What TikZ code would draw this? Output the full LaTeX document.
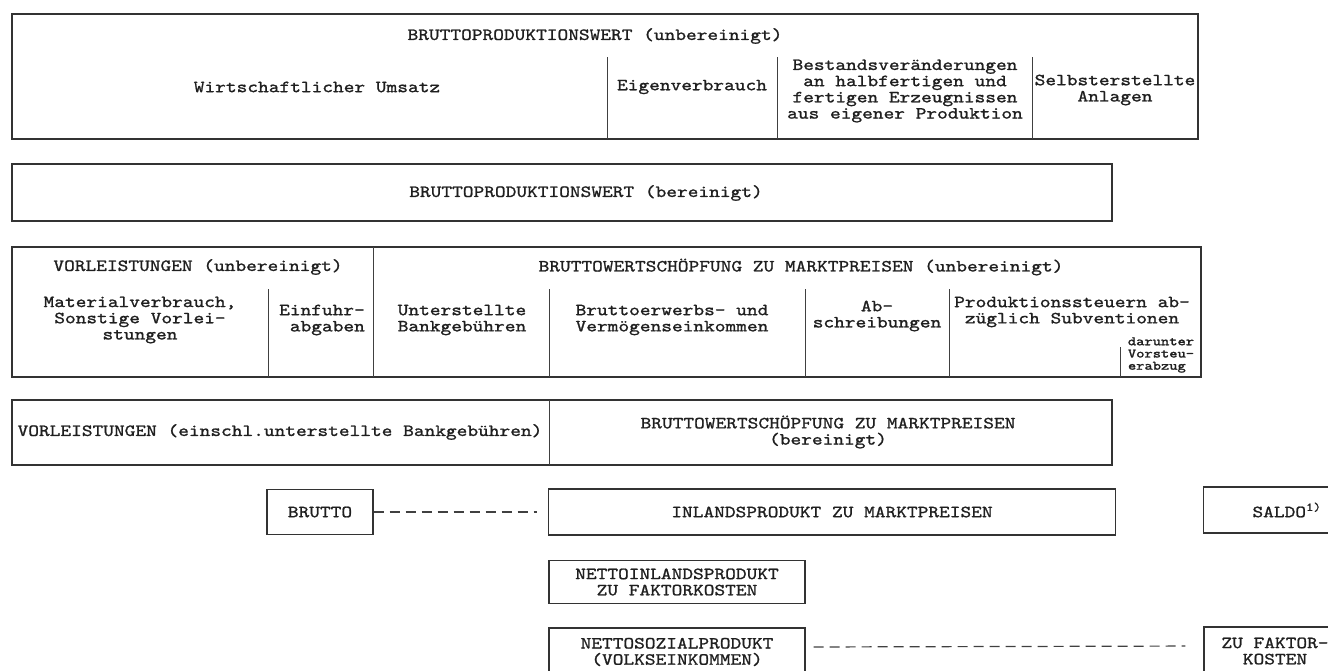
\documentclass[tikz,border=0pt]{standalone}
\usepackage{fontspec}
\newfontfamily\typewriter{lmmono10-regular.otf}[FakeStretch=1.2, FakeBold=1.2]
\newfontfamily\smalltype{lmmono10-regular.otf}[FakeStretch=1.23, FakeBold=1.8]
\usetikzlibrary{positioning}

\tikzset{
  rowframe/.style={draw=black!80, line width=1.4pt},
  cellline/.style={draw=black!75, line width=0.9pt},
  txt/.style={font=\typewriter\fontsize{17}{16.2}\selectfont, text=black!88, align=center, inner sep=0pt},
  smalltxt/.style={font=\smalltype\fontsize{12.8}{12.2}\selectfont, text=black!88, align=left, inner sep=0pt},
  figbox/.style={rowframe, txt},
  link/.style={draw=black!75, line width=1.2pt, dash pattern=on 10pt off 6pt},
}

\begin{document}
\begin{tikzpicture}[x=1pt, y=-1pt]
\useasboundingbox (0,0) rectangle (1328,670);
\clip (0,0) rectangle (1328,670);

% Bruttoproduktionswert (unbereinigt)
\draw[rowframe] (12,14) rectangle (1198,139);
\foreach \x in {607,777,1032} \draw[cellline] (\x,57) -- (\x,139);
\node[txt] (bpwu) at (595,36) {BRUTTOPRODUKTIONSWERT (unbereinigt)};
\node[txt] (umsatz) at (317,87) {Wirtschaftlicher Umsatz};
\node[txt] (eigen) at (692,87) {Eigenverbrauch};
\node[txt] (bestand) at (905,91) {Bestandsveränderungen\\an halbfertigen und\\fertigen Erzeugnissen\\aus eigener Produktion};
\node[txt] (anlagen) at (1115,90) {Selbsterstellte\\Anlagen};

% Bruttoproduktionswert (bereinigt)
\draw[rowframe] (12,164) rectangle (1112,221);
\node[txt] (bpwb) at (586,193) {BRUTTOPRODUKTIONSWERT (bereinigt)};

% Vorleistungen / Bruttowertschoepfung (unbereinigt)
\draw[rowframe] (12,247) rectangle (1201,377);
\draw[cellline] (373,247) -- (373,377);
\foreach \x in {268,549,805,949} \draw[cellline] (\x,289) -- (\x,377);
\draw[cellline] (1120,347) -- (1120,377);
\node[txt] (vlu) at (198,267) {VORLEISTUNGEN (unbereinigt)};
\node[txt] (bwsu) at (801,267) {BRUTTOWERTSCHÖPFUNG ZU MARKTPREISEN (unbereinigt)};
\node[txt] (material) at (140,320) {Materialverbrauch,\\Sonstige Vorlei-\\stungen};
\node[txt, align=right] (einfuhr) at (322,320) {Einfuhr-\\abgaben};
\node[txt] (bankgeb) at (462,320) {Unterstellte\\Bankgebühren};
\node[txt] (einkommen) at (672,320) {Bruttoerwerbs- und\\Vermögenseinkommen};
\node[txt] (abschr) at (877,316) {Ab-\\schreibungen};
\node[txt] (steuern) at (1072,312) {Produktionssteuern ab-\\züglich Subventionen};
\node[smalltxt] (vorsteuer) at (1161,355) {darunter\\Vorsteu-\\erabzug};

% Vorleistungen / Bruttowertschoepfung (bereinigt)
\draw[rowframe] (12,400) rectangle (1112,465);
\draw[cellline] (549,400) -- (549,465);
\node[txt] (vlb) at (280,432) {VORLEISTUNGEN (einschl.unterstellte Bankgebühren)};
\node[txt] (bwsb) at (828,432) {BRUTTOWERTSCHÖPFUNG ZU MARKTPREISEN\\(bereinigt)};

% Inlandsprodukt und Nettogroessen
\node[figbox, minimum width=106pt, minimum height=45pt] (brutto) at (320,512) {BRUTTO};
\node[figbox, minimum width=567pt, minimum height=46pt] (inland) at (832,512) {INLANDSPRODUKT ZU MARKTPREISEN};
\node[figbox, minimum width=167pt, minimum height=46pt] (saldo) at (1287,510) {SALDO\textsuperscript{1)}};
\node[figbox, minimum width=256pt, minimum height=43pt] (nettoinl) at (677,582) {NETTOINLANDSPRODUKT\\ZU FAKTORKOSTEN};
\node[figbox, minimum width=256pt, minimum height=48pt] (sozial) at (677,652) {NETTOSOZIALPRODUKT\\(VOLKSEINKOMMEN)};
\node[figbox, minimum width=142pt, minimum height=48pt] (faktor) at (1275,651) {ZU FAKTOR-\\KOSTEN};

\draw[link, shorten >=11pt] (brutto.east) -- (inland.west);
\draw[link, shorten <=8pt, shorten >=18pt] ([yshift=5pt]sozial.east) -- ([yshift=5pt]faktor.west);
\end{tikzpicture}
\end{document}
